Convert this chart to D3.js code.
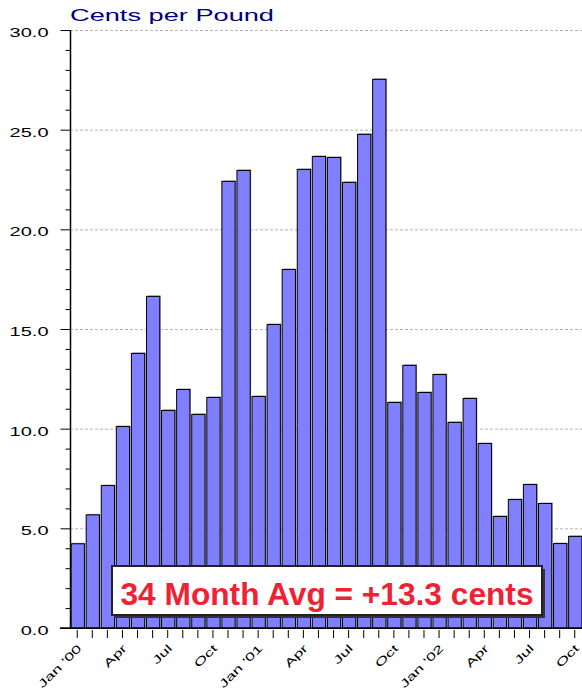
<!DOCTYPE html>
<html>
<head>
<meta charset="utf-8">
<script src="https://cdn.jsdelivr.net/npm/d3@7"></script>
<style>
  body { margin: 0; background: #fff; }
  svg { display: block; font-family: Arial, "Liberation Sans", sans-serif; }
</style>
</head>
<body>
<svg id="chart" width="582" height="694"></svg>
<script>
// monthly values, Jan '00 .. Oct '02
const months = d3.range(34);
const values = [
  4.25, 5.7, 7.17, 10.13, 13.8, 16.66, 10.94, 11.99, 10.74, 11.59, 22.43, 22.98,
  11.64, 15.25, 18.01, 23.03, 23.68, 23.63, 22.38, 24.79, 27.55, 11.34, 13.2, 11.84,
  12.74, 10.34, 11.54, 9.28, 5.62, 6.47, 7.22, 6.27, 4.26, 4.62
];
const tickNames = ["Jan '00", "Apr", "Jul", "Oct", "Jan '01", "Apr", "Jul", "Oct",
                   "Jan '02", "Apr", "Jul", "Oct"];
const yMajor = [0, 5, 10, 15, 20, 25, 30];
const title = "Cents per Pound";
const note = "34 Month Avg = +13.3 cents";

const svg = d3.select("#chart");
const mLeft = 70, mRight = 582, mTop = 30, mBottom = 628;
// the original fonts are drawn wide
const wide = 1.6;

const x = d3.scaleBand().domain(months).range([mLeft, mRight]).paddingInner(0.12).paddingOuter(0.04);
const y = d3.scaleLinear().domain([0, 30]).range([mBottom, mTop]);

// grid
svg.append("g").selectAll("line")
  .data(yMajor.filter(v => v > 0))
  .join("line")
  .attr("x1", mLeft).attr("x2", mRight)
  .attr("y1", d => y(d) + 0.5).attr("y2", d => y(d) + 0.5)
  .attr("stroke", "#b4b4b4").attr("stroke-dasharray", "3,2");

// bars with a soft shadow
const bars = svg.append("g");
bars.selectAll("rect.shadow")
  .data(values)
  .join("rect")
  .attr("class", "shadow")
  .attr("x", (d, i) => x(i) + 1.5)
  .attr("y", d => y(d) - 0.5)
  .attr("width", x.bandwidth())
  .attr("height", d => mBottom - y(d))
  .attr("fill", "#999");
bars.selectAll("rect.bar")
  .data(values)
  .join("rect")
  .attr("class", "bar")
  .attr("x", (d, i) => x(i) + 0.5)
  .attr("y", d => y(d) + 0.5)
  .attr("width", x.bandwidth())
  .attr("height", d => mBottom - y(d))
  .attr("fill", "#8080ff")
  .attr("stroke", "#000").attr("stroke-width", 1);

// y axis
const yAxis = svg.append("g").attr("transform", `translate(${mLeft + 0.5},0)`);
yAxis.append("line").attr("y1", mTop).attr("y2", mBottom).attr("stroke", "#000").attr("stroke-width", 1.5);
yAxis.selectAll("line.minor")
  .data(d3.range(0, 31))
  .join("line")
  .attr("class", "minor")
  .attr("x1", d => d % 5 === 0 ? -10 : -5).attr("x2", 0)
  .attr("y1", d => y(d) + 0.5).attr("y2", d => y(d) + 0.5)
  .attr("stroke", "#000");
yAxis.selectAll("text")
  .data(yMajor)
  .join("text")
  .attr("transform", d => `translate(-22,${y(d) + 7}) scale(${wide},1)`)
  .attr("text-anchor", "end")
  .attr("font-size", 12.5)
  .text(d => d.toFixed(1));

// x axis
const xAxis = svg.append("g").attr("transform", `translate(0,${mBottom})`);
xAxis.append("line").attr("x1", mLeft - 10).attr("x2", mRight).attr("stroke", "#000").attr("stroke-width", 1.5);
xAxis.selectAll("line.tick")
  .data(months)
  .join("line")
  .attr("class", "tick")
  .attr("x1", d => x(d) + x.bandwidth() / 2).attr("x2", d => x(d) + x.bandwidth() / 2)
  .attr("y1", 2).attr("y2", 10)
  .attr("stroke", "#000");
xAxis.selectAll("text")
  .data(months.filter(d => d % 3 === 0))
  .join("text")
  .attr("transform", d => `translate(${x(d) + x.bandwidth() / 2 + 5},${21}) rotate(-45) scale(${wide},1)`)
  .attr("text-anchor", "end")
  .attr("font-size", 11)
  .text((d, i) => tickNames[i]);

// title
svg.append("text")
  .attr("transform", `translate(70,21) scale(1.7,1)`)
  .attr("fill", "#000080")
  .attr("font-size", 16)
  .text(title);

// average note
const box = svg.append("g");
box.append("rect").attr("x", 114).attr("y", 569).attr("width", 431).attr("height", 49).attr("fill", "#333");
box.append("rect").attr("x", 112).attr("y", 566).attr("width", 430).attr("height", 49)
  .attr("fill", "#fff").attr("stroke", "#222").attr("stroke-width", 2);
box.append("text")
  .attr("x", 327).attr("y", 605)
  .attr("text-anchor", "middle")
  .attr("fill", "#ee2233")
  .attr("font-size", 32).attr("font-weight", "bold")
  .attr("textLength", 413).attr("lengthAdjust", "spacingAndGlyphs")
  .text(note);
</script>
</body>
</html>
